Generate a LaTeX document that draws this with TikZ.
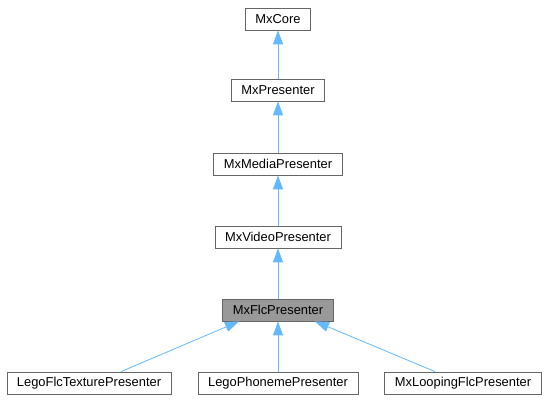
\documentclass[tikz,border=0pt]{standalone}
\usepackage{fontspec}
\setmainfont{Liberation Sans}
\usepackage{xcolor}
\usepackage{tikz}
\usetikzlibrary{calc,arrows.meta}
\definecolor{edgeblue}{HTML}{63B8FF}
\definecolor{boxgray}{HTML}{666666}
\definecolor{curgray}{HTML}{999999}

\begin{document}
\begin{tikzpicture}
    [%%%%%%%%%%%%%%%%%%%%%%%%%%%%%%
        x=1pt,y=1pt,
        cls/.style={rectangle,draw=boxgray,fill=white,line width=0.8pt,
            minimum height=22pt,inner xsep=10pt,inner ysep=0pt,
            font=\fontsize{12.9}{14}\selectfont},
        cur/.style={cls,fill=curgray},
        edge/.style={draw=edgeblue,line width=0.8pt,
            -{Triangle[length=14pt,width=10pt,fill=edgeblue]}},
    ]%%%%%%%%%%%%%%%%%%%%%%%%%%%%%%

\useasboundingbox (0,0) rectangle (549,-403);

\node[cls] (core) at (278,-19){MxCore};
\node[cls] (pres) at (278,-90){MxPresenter};
\node[cls] (media) at (278,-164){MxMediaPresenter};
\node[cls] (video) at (278,-237){MxVideoPresenter};
\node[cur] (flc) at (278,-310){MxFlcPresenter};

\node[cls] (tex) at (89,-383){LegoFlcTexturePresenter};
\node[cls] (phon) at (278,-383){LegoPhonemePresenter};
\node[cls] (loop) at (463,-383){MxLoopingFlcPresenter};

\draw[edge] (pres) -- (core);
\draw[edge] (media) -- (pres);
\draw[edge] (video) -- (media);
\draw[edge] (flc) -- (video);

\draw[edge] ([xshift=32pt]tex.north) -- ([xshift=-39pt]flc.south);
\draw[edge] (phon) -- (flc);
\draw[edge] ([xshift=-28pt]loop.north) -- ([xshift=37pt]flc.south);

\end{tikzpicture}
\end{document}
